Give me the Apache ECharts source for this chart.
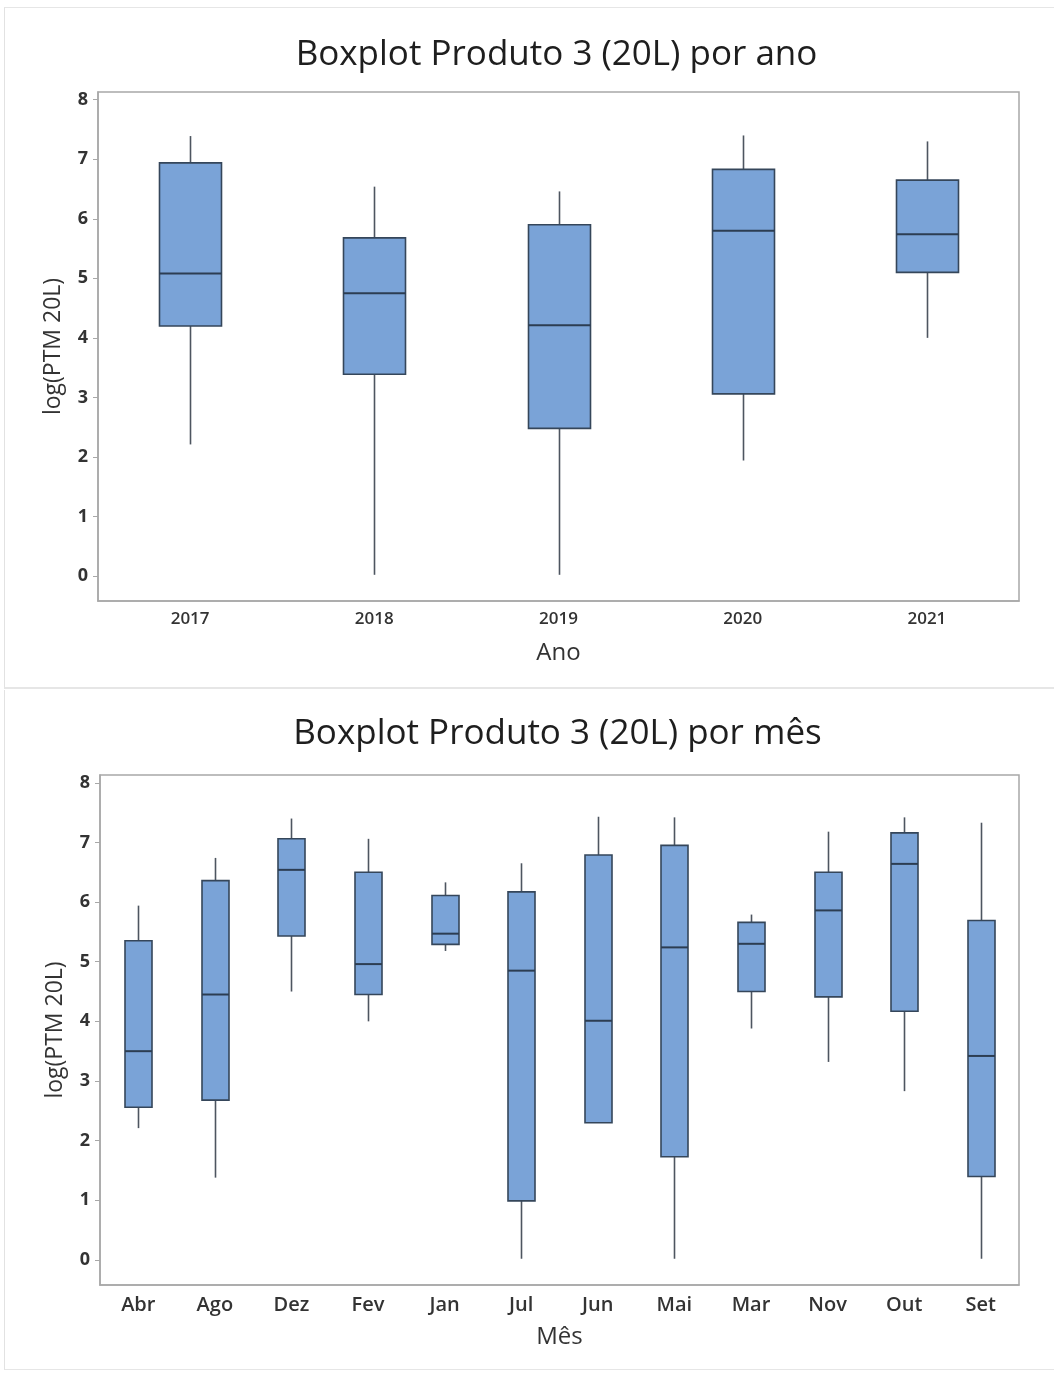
<!DOCTYPE html>
<html>
<head>
<meta charset="utf-8">
<title>Boxplot Produto 3 (20L)</title>
<script src="https://cdn.jsdelivr.net/npm/echarts@6/dist/echarts.min.js"></script>
<style>
	html, body { margin: 0; padding: 0; background: #fff; }
	body { width: 1054px; height: 1374px; position: relative; overflow: hidden; }
	#chart1 { position: absolute; left: 4px; top: 7px; width: 1050px; height: 682px;
		border-left: 1px solid #e2e2e2; border-top: 1px solid #e6e6e6; border-bottom: 2px solid #e6e6e6; box-sizing: border-box; }
	#chart2 { position: absolute; left: 4px; top: 690px; width: 1050px; height: 680px;
		border-left: 1px solid #e2e2e2; border-bottom: 1px solid #e6e6e6; box-sizing: border-box; }
</style>
</head>
<body>
<div id="chart1"></div>
<div id="chart2"></div>
<script>
// por ano: min, Q1, mediana, Q3, max
var anoCats = ['2017', '2018', '2019', '2020', '2021'];
var anoMin = [2.21, 0.02, 0.02, 1.94, 4.00];
var anoQ1 = [4.20, 3.39, 2.48, 3.06, 5.10];
var anoMed = [5.08, 4.75, 4.21, 5.80, 5.74];
var anoQ3 = [6.94, 5.68, 5.90, 6.83, 6.65];
var anoMax = [7.39, 6.54, 6.46, 7.40, 7.30];

// por mês
var mesCats = ['Abr', 'Ago', 'Dez', 'Fev', 'Jan', 'Jul', 'Jun', 'Mai', 'Mar', 'Nov', 'Out', 'Set'];
var mesMin = [2.21, 1.38, 4.50, 4.00, 5.18, 0.02, 2.30, 0.02, 3.88, 3.32, 2.83, 0.02];
var mesQ1 = [2.56, 2.68, 5.43, 4.45, 5.29, 0.99, 2.30, 1.73, 4.50, 4.41, 4.17, 1.40];
var mesMed = [3.50, 4.45, 6.54, 4.96, 5.47, 4.85, 4.01, 5.24, 5.30, 5.86, 6.64, 3.42];
var mesQ3 = [5.35, 6.36, 7.06, 6.50, 6.11, 6.17, 6.79, 6.95, 5.66, 6.50, 7.16, 5.69];
var mesMax = [5.94, 6.74, 7.40, 7.06, 6.33, 6.65, 7.43, 7.42, 5.79, 7.18, 7.42, 7.33];

var yTicks = [0, 1, 2, 3, 4, 5, 6, 7, 8];

var FONT = 'Open Sans';
var FRAME = '#a8a8a8';

var Boxplots = {
	init: function () {
		Boxplots.initChart1();
		Boxplots.initChart2();
	},

	buildData: function (mins, q1s, meds, q3s, maxs) {
		var out = [];
		for (var i = 0; i < mins.length; i++) {
			out.push([i, mins[i], q1s[i], meds[i], q3s[i], maxs[i]]);
		}
		return out;
	},

	// caixa sem "caps" nos bigodes, como no Minitab
	boxRenderer: function (boxWidth) {
		return function (params, api) {
			var x = api.value(0);
			var pMin = api.coord([x, api.value(1)]);
			var pQ1 = api.coord([x, api.value(2)]);
			var pMed = api.coord([x, api.value(3)]);
			var pQ3 = api.coord([x, api.value(4)]);
			var pMax = api.coord([x, api.value(5)]);
			var cx = Math.round(pQ1[0]) + 0.5;
			var half = boxWidth / 2;
			var whisker = { stroke: '#4d5560', lineWidth: 1.6 };
			return {
				type: 'group',
				children: [
					{ type: 'line', shape: { x1: cx, y1: pQ3[1], x2: cx, y2: pMax[1] }, style: whisker },
					{ type: 'line', shape: { x1: cx, y1: pMin[1], x2: cx, y2: pQ1[1] }, style: whisker },
					{ type: 'rect', shape: { x: cx - half, y: pQ3[1], width: boxWidth, height: pQ1[1] - pQ3[1] },
						style: { fill: '#7aa3d7', stroke: '#35465a', lineWidth: 1.6 } },
					{ type: 'line', shape: { x1: cx - half, y1: pMed[1], x2: cx + half, y2: pMed[1] },
						style: { stroke: '#2c3d52', lineWidth: 2 } }
				]
			};
		};
	},

	baseOption: function (titleText, titleTop, cats, xName, xNameGap, labelSize, grid, boxWidth, data) {
		return {
			animation: false,
			backgroundColor: '#fff',
			title: {
				text: titleText,
				left: grid.left + grid.width / 2 - 7,
				textAlign: 'center',
				top: titleTop,
				textStyle: { fontFamily: FONT, fontSize: 35, fontWeight: 'normal', color: '#1e1e1e' }
			},
			grid: {
				left: grid.left, top: grid.top, width: grid.width, height: grid.height,
				show: true, borderColor: FRAME, borderWidth: 1.5, backgroundColor: '#fff'
			},
			xAxis: {
				type: 'category',
				data: cats,
				name: xName,
				nameLocation: 'middle',
				nameGap: xNameGap,
				nameTextStyle: { fontFamily: FONT, fontSize: 24, fontWeight: 500, color: '#333' },
				boundaryGap: true,
				axisLine: { onZero: false, lineStyle: { color: FRAME, width: 1.5 } },
				axisTick: { alignWithLabel: true, length: 5, lineStyle: { color: FRAME } },
				axisLabel: { fontFamily: FONT, fontSize: labelSize, fontWeight: 600, color: '#333', margin: 10 },
				splitLine: { show: false }
			},
			yAxis: {
				type: 'value',
				min: -0.42,
				max: 8.13,
				name: 'log(PTM 20L)',
				nameLocation: 'middle',
				nameGap: 33,
				nameTextStyle: { fontFamily: FONT, fontSize: 23, fontWeight: 500, color: '#333' },
				axisLine: { show: true, lineStyle: { color: FRAME, width: 1.5 } },
				axisTick: { show: true, length: 5, customValues: yTicks, lineStyle: { color: FRAME } },
				axisLabel: { fontFamily: FONT, fontSize: 18, fontWeight: 700, color: '#333', margin: 10, customValues: yTicks },
				splitLine: { show: false }
			},
			series: [{
				type: 'custom',
				renderItem: Boxplots.boxRenderer(boxWidth),
				encode: { x: 0, y: [1, 2, 3, 4, 5] },
				data: data
			}]
		};
	},

	initChart1: function () {
		var myChart = echarts.init(document.getElementById('chart1'));
		var option = Boxplots.baseOption('Boxplot Produto 3 (20L) por ano', 25, anoCats, 'Ano', 40, 17,
			{ left: 93, top: 84, width: 921, height: 509 }, 62,
			Boxplots.buildData(anoMin, anoQ1, anoMed, anoQ3, anoMax));
		myChart.setOption(option, true);
	},

	initChart2: function () {
		var myChart = echarts.init(document.getElementById('chart2'));
		var option = Boxplots.baseOption('Boxplot Produto 3 (20L) por mês', 22, mesCats, 'Mês', 40, 20,
			{ left: 95, top: 85, width: 919, height: 510 }, 27,
			Boxplots.buildData(mesMin, mesQ1, mesMed, mesQ3, mesMax));
		myChart.setOption(option, true);
	}
};

Boxplots.init();
</script>
</body>
</html>
